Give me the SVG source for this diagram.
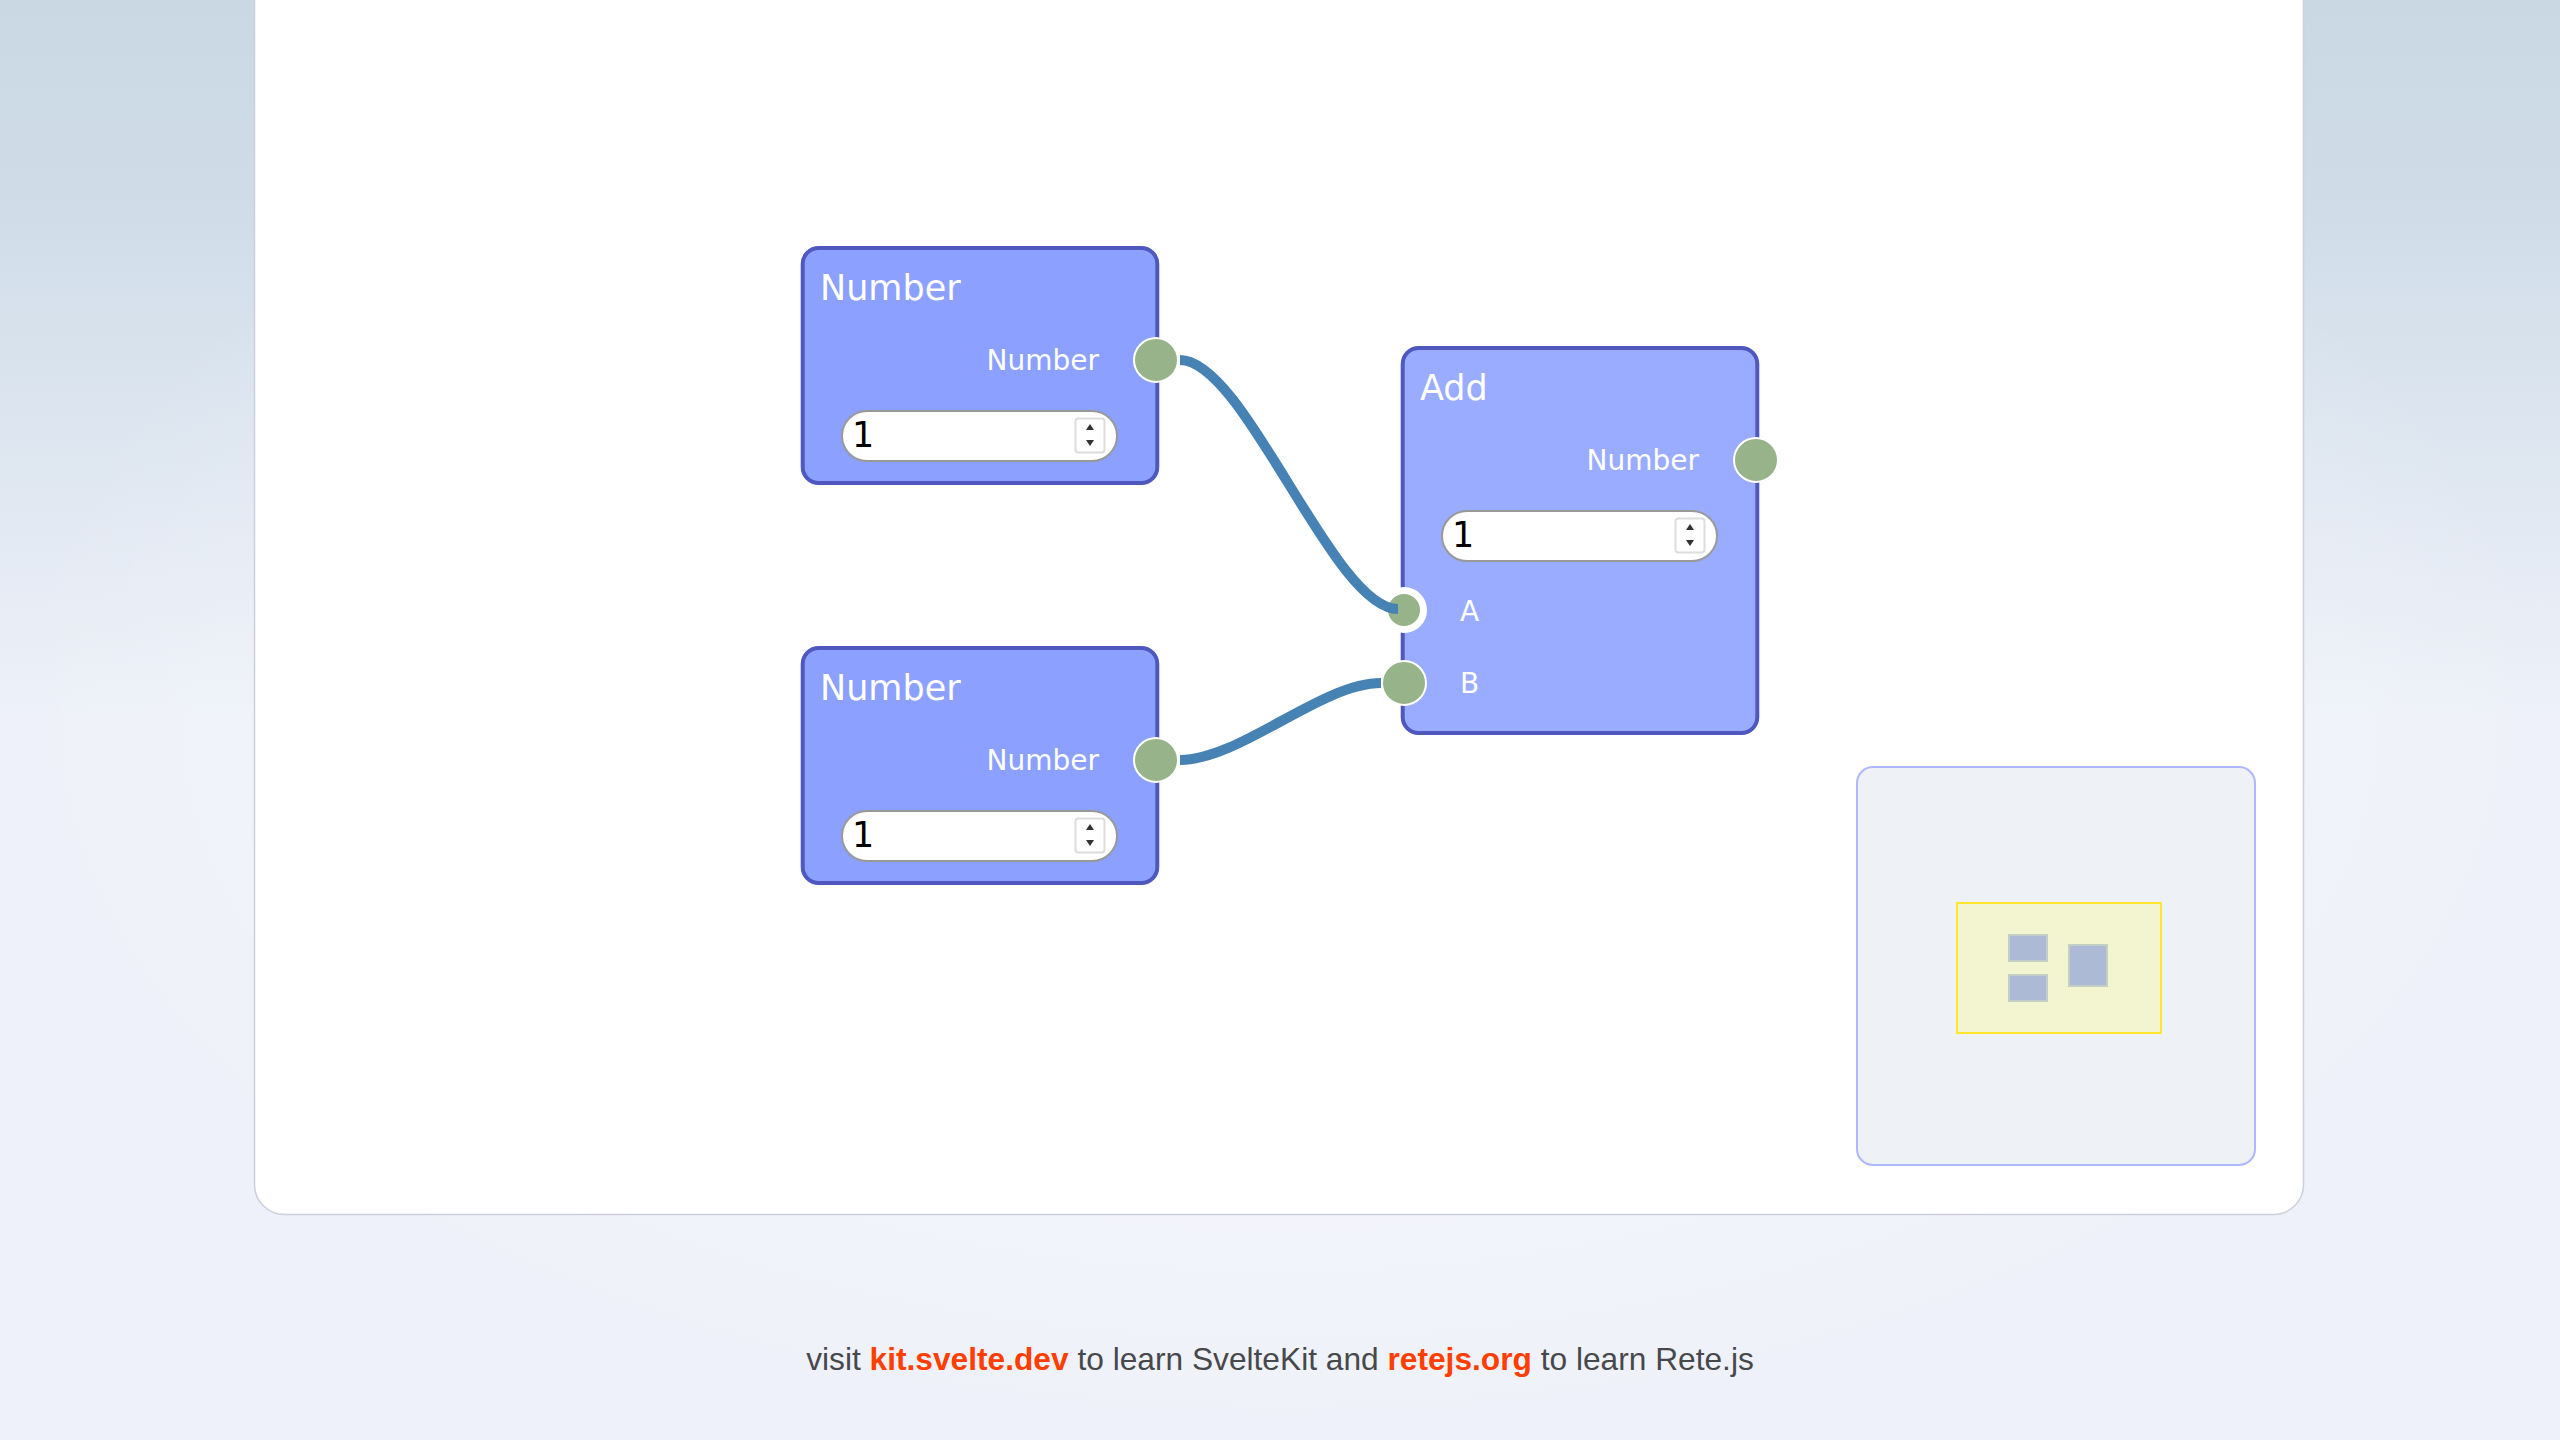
<svg xmlns="http://www.w3.org/2000/svg" width="2560" height="1440" viewBox="0 0 2560 1440">
<defs>
<linearGradient id="bgLin" x1="0" y1="0" x2="0" y2="1">
<stop offset="0" stop-color="#cad8e4"/>
<stop offset="0.15" stop-color="#d0dde9"/>
<stop offset="0.5" stop-color="#eef1f9"/>
<stop offset="1" stop-color="#eef1f9"/>
</linearGradient>
<radialGradient id="bgRad" cx="0.5" cy="0.5" r="0.5">
<stop offset="0" stop-color="#ffffff" stop-opacity="0.75"/>
<stop offset="1" stop-color="#ffffff" stop-opacity="0"/>
</radialGradient>
<style>
.node{stroke:#4e58bf;stroke-width:4}
.num{fill:#8ba0ff}
.add{fill:#9aacff}
.title{font-family:"DejaVu Sans",sans-serif;font-size:35px;fill:#ffffff}
.label{font-family:"DejaVu Sans",sans-serif;font-size:28px;fill:#ffffff}
.input{fill:#ffffff;stroke:#999999;stroke-width:2}
.val{font-family:"DejaVu Sans",sans-serif;font-size:35px;fill:#000000}
.spin{fill:#ffffff;stroke:#dddddd;stroke-width:2}
.arrow{fill:#333333}
.socket{fill:#96b38a;stroke:#ffffff;stroke-width:2}
.conn{fill:none;stroke:#4682b4;stroke-width:10}
.mini{fill:#acbad6;stroke:#c3cfc5;stroke-width:2}
.foot{font-family:"Liberation Sans",Arial,sans-serif;font-size:31.7px;fill:#47484c}
.link{font-weight:bold;fill:#ff3e00}
</style>
</defs>
<rect x="0" y="0" width="2560" height="1440" fill="url(#bgLin)"/>
<rect x="0" y="0" width="2560" height="1440" fill="url(#bgRad)"/>
<rect x="254.5" y="-40" width="2049" height="1254.5" rx="30" fill="#ffffff" stroke="#cdd0dc" stroke-width="1.5"/>

<g id="node-number-1">
<rect class="node num" x="802.7" y="248" width="354.6" height="235" rx="16"/>
<text class="title" x="820" y="300">Number</text>
<text class="label" x="1099" y="370" text-anchor="end">Number</text>
<circle class="socket" cx="1156" cy="360" r="22"/>
<rect class="input" x="842" y="411" width="275" height="50" rx="25"/>
<text class="val" x="852" y="447">1</text>
<rect class="spin" x="1075.5" y="418.5" width="29" height="34" rx="3"/>
<polygon class="arrow" points="1086,430 1094,430 1090,424"/>
<polygon class="arrow" points="1086,440 1094,440 1090,446"/>
</g>

<g id="node-number-2">
<rect class="node num" x="802.7" y="648" width="354.6" height="235" rx="16"/>
<text class="title" x="820" y="700">Number</text>
<text class="label" x="1099" y="770" text-anchor="end">Number</text>
<circle class="socket" cx="1156" cy="760" r="22"/>
<rect class="input" x="842" y="811" width="275" height="50" rx="25"/>
<text class="val" x="852" y="847">1</text>
<rect class="spin" x="1075.5" y="818.5" width="29" height="34" rx="3"/>
<polygon class="arrow" points="1086,830 1094,830 1090,824"/>
<polygon class="arrow" points="1086,840 1094,840 1090,846"/>
</g>

<g id="node-add">
<rect class="node add" x="1402.7" y="348" width="354.6" height="385" rx="16"/>
<text class="title" x="1420" y="400">Add</text>
<text class="label" x="1699" y="470" text-anchor="end">Number</text>
<circle class="socket" cx="1756" cy="460" r="22"/>
<rect class="input" x="1442" y="511" width="275" height="50" rx="25"/>
<text class="val" x="1452" y="547">1</text>
<rect class="spin" x="1675.5" y="518.5" width="29" height="34" rx="3"/>
<polygon class="arrow" points="1686,530 1694,530 1690,524"/>
<polygon class="arrow" points="1686,540 1694,540 1690,546"/>
<circle cx="1404" cy="610" r="19.5" fill="#96b38a" stroke="#ffffff" stroke-width="7"/>
<text class="label" x="1460" y="621">A</text>
<circle class="socket" cx="1404" cy="683" r="22"/>
<text class="label" x="1460" y="693">B</text>
</g>

<g id="connectors">
<path class="conn" d="M1180,360 C1245,360 1333,609 1398,609"/>
<path class="conn" d="M1180,760 C1240,760 1321,683 1381,683"/>
</g>

<g id="minimap">
<rect x="1857" y="767" width="398" height="398" rx="16" fill="#eef1f5" stroke="#b1b7ff" stroke-width="2"/>
<rect x="1957" y="903" width="204" height="130" fill="#f3f4d0" stroke="#ffe52b" stroke-width="2"/>
<rect class="mini" x="2009" y="935" width="38" height="26"/>
<rect class="mini" x="2009" y="975" width="38" height="26"/>
<rect class="mini" x="2069" y="945" width="38" height="41"/>
</g>

<text class="foot" x="1280" y="1370" text-anchor="middle">visit <tspan class="link">kit.svelte.dev</tspan> to learn SvelteKit and <tspan class="link">retejs.org</tspan> to learn Rete.js</text>
</svg>
